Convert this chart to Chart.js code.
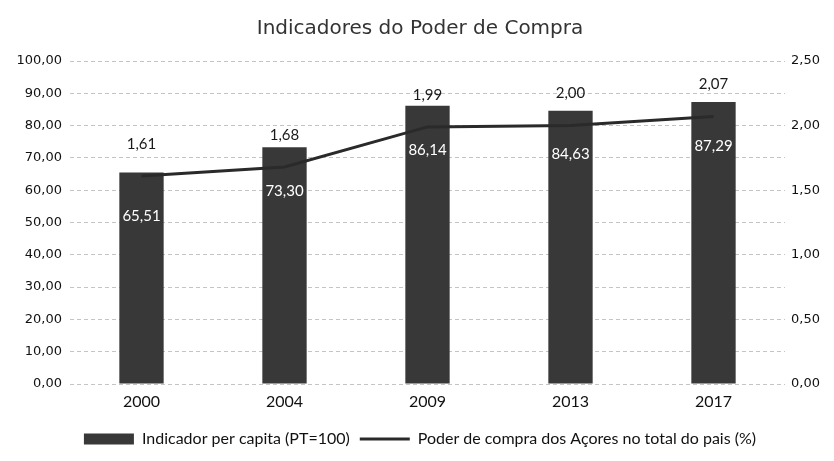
<!DOCTYPE html>
<html>
<head>
<meta charset="utf-8">
<script src="https://cdn.jsdelivr.net/npm/chart.js@4/dist/chart.umd.min.js"></script>
<style>
  html, body { margin: 0; padding: 0; background: #fff; }
  #wrap { width: 834px; height: 461px; }
</style>
</head>
<body>
<div id="wrap"><canvas id="poderChart"></canvas></div>
<script>
const years = ['2000', '2004', '2009', '2013', '2017'];
const indicadorPerCapita = [65.51, 73.30, 86.14, 84.63, 87.29];
const poderCompra = [1.61, 1.68, 1.99, 2.00, 2.07];

const fmt = v => Number(v).toFixed(2).replace('.', ',');

// value labels: white inside the bars, black above the line points
const valueLabels = {
    id: 'valueLabels',
    afterDatasetsDraw(chart) {
        const ctx = chart.ctx;
        ctx.save();
        ctx.textAlign = 'center';
        ctx.textBaseline = 'middle';
        ctx.font = '15px Lato';

        const bars = chart.getDatasetMeta(0).data;
        ctx.fillStyle = '#ffffff';
        bars.forEach((bar, i) => {
            ctx.fillText(fmt(indicadorPerCapita[i]), bar.x, bar.y + 44);
        });

        const pts = chart.getDatasetMeta(1).data;
        ctx.fillStyle = '#1a1a1a';
        pts.forEach((pt, i) => {
            ctx.fillText(fmt(poderCompra[i]), pt.x, pt.y - 32);
        });
        ctx.restore();
    }
};

const ctx = document.getElementById('poderChart').getContext('2d');
new Chart(ctx, {
    type: 'bar',
    data: {
        labels: years,
        datasets: [
            {
                type: 'bar',
                label: 'Indicador per capita (PT=100)',
                data: indicadorPerCapita,
                backgroundColor: '#383838',
                borderWidth: 0,
                barPercentage: 0.31,
                categoryPercentage: 1,
                pointStyle: 'rect',
                yAxisID: 'y',
                order: 1
            },
            {
                type: 'line',
                label: 'Poder de compra dos Açores no total do pais (%)',
                data: poderCompra,
                borderColor: '#2a2a2a',
                backgroundColor: '#2a2a2a',
                borderWidth: 3,
                pointRadius: 0,
                pointStyle: 'line',
                tension: 0,
                yAxisID: 'y1',
                order: 0
            }
        ]
    },
    options: {
        responsive: true,
        maintainAspectRatio: false,
        animation: false,
        layout: { padding: { left: 10, right: 4, top: 0, bottom: 4 } },
        plugins: {
            title: {
                display: true,
                text: 'Indicadores do Poder de Compra',
                color: '#333',
                font: { family: "'DejaVu Sans'", size: 20, weight: 'normal' },
                padding: { top: 17, bottom: 20 }
            },
            legend: {
                position: 'bottom',
                labels: {
                    usePointStyle: true,
                    pointStyleWidth: 50,
                    boxHeight: 11,
                    color: '#111',
                    font: { family: 'Lato', size: 16 },
                    padding: 10,
                    sort: (a, b) => a.datasetIndex - b.datasetIndex
                }
            },
            tooltip: { enabled: false }
        },
        scales: {
            x: {
                grid: { display: false, drawTicks: false },
                border: { display: false },
                ticks: { color: '#111', font: { family: 'Lato', size: 16 }, padding: 8 },
                afterFit: s => { s.height = 37; }
            },
            y: {
                position: 'left',
                min: 0,
                max: 100,
                ticks: {
                    stepSize: 10,
                    color: '#111',
                    font: { family: "'DejaVu Sans'", size: 13 },
                    padding: 8,
                    callback: v => fmt(v)
                },
                grid: { color: '#c4c4c4', lineWidth: 1, drawTicks: false },
                border: { display: false, dash: [4, 3] },
                afterFit: s => { s.width = 60; }
            },
            y1: {
                position: 'right',
                min: 0,
                max: 2.5,
                ticks: {
                    stepSize: 0.5,
                    color: '#111',
                    font: { family: "'DejaVu Sans'", size: 13 },
                    padding: 6,
                    callback: v => fmt(v)
                },
                grid: { drawOnChartArea: false, drawTicks: false },
                border: { display: false },
                afterFit: s => { s.width = 45; }
            }
        }
    },
    plugins: [valueLabels]
});
</script>
</body>
</html>
